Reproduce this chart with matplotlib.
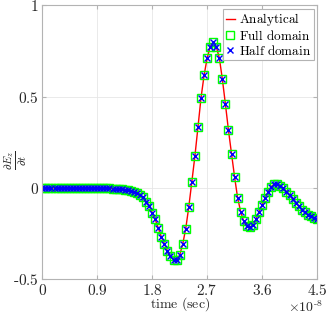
import matplotlib
matplotlib.use("Agg")
import matplotlib.pyplot as plt

plt.rcParams['font.family'] = ['Liberation Serif', 'DejaVu Serif']
plt.rcParams['mathtext.fontset'] = 'cm'

# time axis in units of 1e-8 s
time = [0.00, 0.05, 0.10, 0.15, 0.20, 0.25, 0.30, 0.35, 0.40, 0.45,
        0.50, 0.55, 0.60, 0.65, 0.70, 0.75, 0.80, 0.85, 0.90, 0.95,
        1.00, 1.05, 1.10, 1.15, 1.20, 1.25, 1.30, 1.35, 1.40, 1.45,
        1.50, 1.55, 1.60, 1.65, 1.70, 1.75, 1.80, 1.85, 1.90, 1.95,
        2.00, 2.05, 2.10, 2.15, 2.20, 2.25, 2.30, 2.35, 2.40, 2.45,
        2.50, 2.55, 2.60, 2.65, 2.70, 2.75, 2.80, 2.85, 2.90, 2.95,
        3.00, 3.05, 3.10, 3.15, 3.20, 3.25, 3.30, 3.35, 3.40, 3.45,
        3.50, 3.55, 3.60, 3.65, 3.70, 3.75, 3.80, 3.85, 3.90, 3.95,
        4.00, 4.05, 4.10, 4.15, 4.20, 4.25, 4.30, 4.35, 4.40, 4.45,
        4.50]

analytical = [0.0, 0.0, 0.0, 0.0, 0.0, 0.0, 0.0, 0.0, 0.0, 0.0,
              0.0, 0.0, 0.0, 0.0, 0.0, 0.0, 0.0, 0.0, 0.0, -0.0005,
              -0.001, -0.001, -0.002, -0.003, -0.004, -0.005, -0.007, -0.009, -0.012, -0.016,
              -0.021, -0.028, -0.038, -0.052, -0.075, -0.097, -0.135, -0.172, -0.220, -0.267,
              -0.305, -0.345, -0.375, -0.392, -0.392, -0.368, -0.308, -0.222, -0.103, 0.035,
              0.175, 0.333, 0.493, 0.616, 0.710, 0.772, 0.797, 0.773, 0.712, 0.595,
              0.458, 0.315, 0.187, 0.060, -0.055, -0.130, -0.183, -0.210, -0.214, -0.203,
              -0.172, -0.130, -0.095, -0.055, -0.020, 0.008, 0.020, 0.022, 0.013, -0.002,
              -0.020, -0.038, -0.060, -0.080, -0.100, -0.118, -0.133, -0.146, -0.156, -0.164,
              -0.170]
full_domain = analytical
half_domain = analytical

xticks = [0, 0.9, 1.8, 2.7, 3.6, 4.5]
xticklabels = ['$0$', '$0.9$', '$1.8$', '$2.7$', '$3.6$', '$4.5$']
yticks = [-0.5, 0, 0.5, 1]
yticklabels = ['$\\text{-}0.5$', '$0$', '$0.5$', '$1$']

fig = plt.figure(figsize=(3.29, 3.15), dpi=100)
ax = fig.add_axes([0.1286, 0.1133, 0.8349, 0.8699])

ax.plot(time, analytical, color='#ff0000', lw=1.0, label=r'$\mathrm{Analytical}$')
ax.plot(time, full_domain, ls='none', marker='s', ms=5.5, mfc='none',
        mec='#00ff00', mew=1.0, label=r'$\mathrm{Full\ domain}$')
ax.plot(time, half_domain, ls='none', marker='x', ms=4.5, color='#0000ff',
        mew=1.0, label=r'$\mathrm{Half\ domain}$')

ax.set_xlim(0, 4.5)
ax.set_ylim(-0.5, 1)
ax.set_xticks(xticks)
ax.set_xticklabels(xticklabels)
ax.set_yticks(yticks)
ax.set_yticklabels(yticklabels)
ax.grid(True, color='#e6e6e6', lw=0.6)
ax.set_axisbelow(True)
for s in ax.spines.values():
    s.set_color('#b3b3b3')
    s.set_linewidth(0.8)
ax.tick_params(direction='in', length=3, color='#b3b3b3', labelsize=11,
               labelcolor='#262626', top=True, right=True, pad=2.5)

ax.set_xlabel(r'$\mathrm{time\ (sec)}$', fontsize=10, color='#262626', labelpad=-1.5)
fig.text(16 / 329, 1 - 160 / 315, r'$\frac{\partial E_z}{\partial t}$',
         fontsize=11.5, rotation=90, ha='center', va='center', color='#262626')
ax.text(1.02, -0.075, r'$\times10^{\text{-}8}$', transform=ax.transAxes,
        ha='right', va='top', fontsize=10, color='#262626')

leg = ax.legend(loc='upper right', fontsize=9.5, frameon=True, fancybox=False,
                borderpad=0.2, labelspacing=0.05, handlelength=0.7,
                handletextpad=0.3, borderaxespad=0.25, framealpha=1)
leg.get_frame().set_edgecolor('#b3b3b3')
leg.get_frame().set_linewidth(0.8)

fig.savefig('out.png', dpi=100)
